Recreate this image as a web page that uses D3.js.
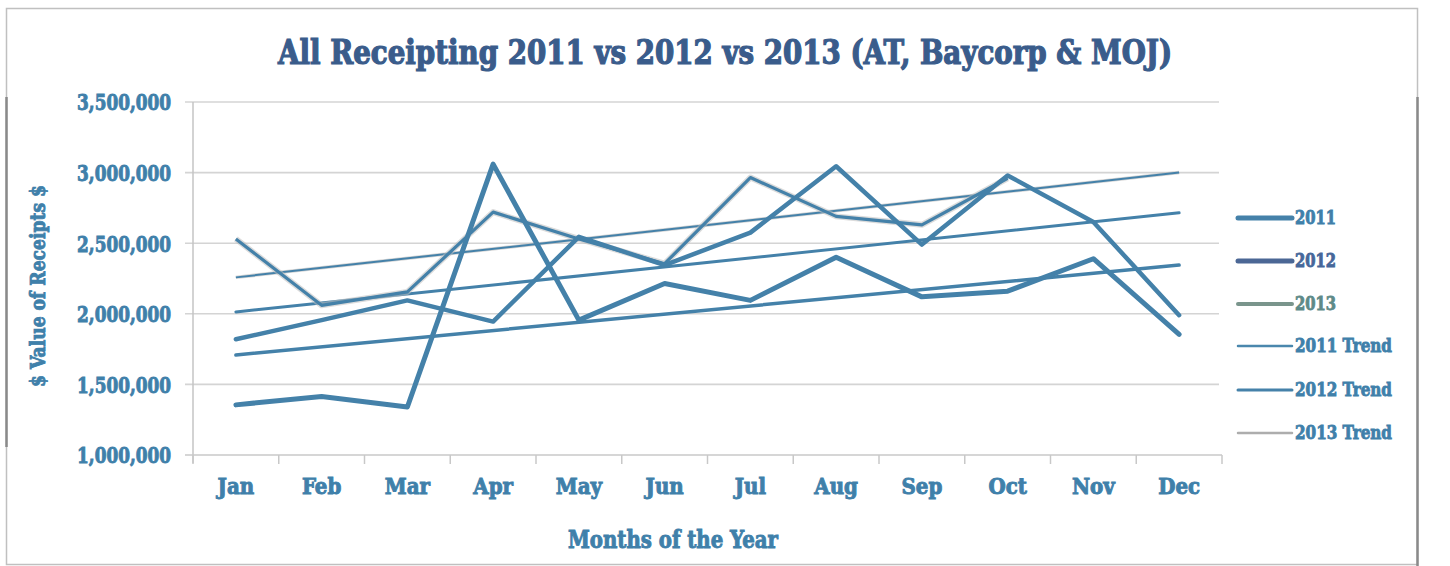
<!DOCTYPE html>
<html>
<head>
<meta charset="utf-8">
<script src="https://cdn.jsdelivr.net/npm/d3@7/dist/d3.min.js"></script>
<style>
  html, body { margin: 0; padding: 0; background: #fff; }
  svg { display: block; }
  text { font-family: "DejaVu Serif", "Liberation Serif", serif; font-weight: bold; font-stretch: condensed; }
</style>
</head>
<body>
<svg id="chart" width="1450" height="566"></svg>
<script>
// ---- data ----
const months = ["Jan","Feb","Mar","Apr","May","Jun","Jul","Aug","Sep","Oct","Nov","Dec"];
const values2011 = [1355000, 1415000, 1340000, 3060000, 1955000, 2215000, 2095000, 2400000, 2120000, 2160000, 2390000, 1855000];
const values2012 = [1820000, 1955000, 2095000, 1945000, 2545000, 2345000, 2575000, 3045000, 2490000, 2980000, 2650000, 1990000];
const values2013 = [2530000, 2060000, 2155000, 2720000, 2530000, 2355000, 2965000, 2690000, 2630000, 2960000];
// trend lines: value at Jan and at Dec
const trend2011 = [1708000, 2345000];
const trend2012 = [2013000, 2715000];
const trend2013 = [2258000, 3000000];
const yTicks = [1000000, 1500000, 2000000, 2500000, 3000000, 3500000];
const legendLabels = ["2011", "2012", "2013", "2011 Trend", "2012 Trend", "2013 Trend"];

const titleText = "All Receipting 2011 vs 2012 vs 2013 (AT, Baycorp & MOJ)";
const xTitleText = "Months of the Year";
const yTitleText = "$ Value of Receipts $";

// ---- layout ----
const svg = d3.select("#chart");
const W = 1450, H = 566;
const pLeft = 193, pRight = 1222, pTop = 102, pBottom = 455;
const blue = "#4481a9", labelBlue = "#3f80aa", titleBlue = "#3a5c8b";

svg.append("rect").attr("width", W).attr("height", H).attr("fill", "#fff");
svg.append("rect").attr("x", 6.5).attr("y", 8.5).attr("width", 1411).attr("height", 556)
  .attr("fill", "none").attr("stroke", "#c0c0c0").attr("stroke-width", 1.5);
// darker scan edges of the frame
svg.append("line").attr("x1", 6.5).attr("x2", 6.5).attr("y1", 97).attr("y2", 447)
  .attr("stroke", "#8a8a8a").attr("stroke-width", 2.5);
svg.append("line").attr("x1", 1417.5).attr("x2", 1417.5).attr("y1", 97).attr("y2", 566)
  .attr("stroke", "#8a8a8a").attr("stroke-width", 2.5);

const x = d3.scaleBand().domain(months).range([pLeft, pRight]);
const y = d3.scaleLinear().domain([1000000, 3500000]).range([pBottom, pTop]);
const xc = m => x(m) + x.bandwidth() / 2;

function fit(sel, w) {
  sel.attr("textLength", w).attr("lengthAdjust", "spacingAndGlyphs");
  return sel;
}
function heavy(sel, c, w) {
  return sel.attr("fill", c).attr("stroke", c).attr("stroke-width", w).attr("paint-order", "stroke");
}

// gridlines
svg.append("g").selectAll("line").data(yTicks.slice(1)).join("line")
  .attr("x1", pLeft - 8).attr("x2", pRight - 3)
  .attr("y1", d => y(d)).attr("y2", d => y(d))
  .attr("stroke", "#d4d4d4").attr("stroke-width", 1.6);

// axes
const yAxis = svg.append("g").attr("transform", `translate(${pLeft},0)`)
  .call(d3.axisLeft(y).tickValues(yTicks).tickSize(0).tickPadding(22).tickFormat(d3.format(",")));
yAxis.select(".domain").attr("stroke", "#c4c4c4").attr("stroke-width", 1.5).attr("d", `M0,${pTop}V${pBottom + 8}`);
yAxis.selectAll(".tick text").attr("font-size", 22).attr("dy", "0.36em")
  .each(function() { heavy(fit(d3.select(this), 94), labelBlue, 0.9); });

const xAxis = svg.append("g").attr("transform", `translate(0,${pBottom})`)
  .call(d3.axisBottom(x).tickSize(0).tickPadding(23));
xAxis.select(".domain").attr("stroke", "#c8c8c8").attr("stroke-width", 1.6).attr("d", `M${pLeft - 8},0H${pRight}`);
xAxis.selectAll(".tick text").attr("font-size", 22)
  .each(function() { heavy(d3.select(this), labelBlue, 0.9); });
// tick marks at the category boundaries
svg.append("g").selectAll("line").data(months).join("line")
  .attr("x1", d => x(d)).attr("x2", d => x(d))
  .attr("y1", pBottom).attr("y2", pBottom + 9)
  .attr("stroke", "#c8c8c8").attr("stroke-width", 1.5);
svg.append("line").attr("x1", pRight).attr("x2", pRight).attr("y1", pBottom).attr("y2", pBottom + 9)
  .attr("stroke", "#c8c8c8").attr("stroke-width", 1.5);

// title
heavy(fit(svg.append("text").attr("x", 725).attr("y", 64).attr("text-anchor", "middle")
  .attr("font-size", 33).text(titleText), 894), titleBlue, 1.2);

// axis titles
heavy(fit(svg.append("text").attr("x", 673).attr("y", 548).attr("text-anchor", "middle")
  .attr("font-size", 24).text(xTitleText), 210), labelBlue, 0.9);
heavy(fit(svg.append("text").attr("transform", "translate(45,286) rotate(-90)").attr("text-anchor", "middle")
  .attr("font-size", 21).text(yTitleText), 202), labelBlue, 0.9);

// trend lines
const trendLine = (vals) => [{m: months[0], v: vals[0]}, {m: months[months.length - 1], v: vals[1]}];
const lineGen = d3.line().x(d => xc(d.m)).y(d => y(d.v));
svg.append("path").datum(trendLine(trend2013)).attr("d", lineGen)
  .attr("fill", "none").attr("stroke", "#b9b9b9").attr("stroke-width", 3.5).attr("opacity", 0.6);
svg.append("path").datum(trendLine(trend2013)).attr("d", lineGen)
  .attr("fill", "none").attr("stroke", blue).attr("stroke-width", 2);
svg.append("path").datum(trendLine(trend2012)).attr("d", lineGen)
  .attr("fill", "none").attr("stroke", blue).attr("stroke-width", 3).attr("stroke-linecap", "round");
svg.append("path").datum(trendLine(trend2011)).attr("d", lineGen)
  .attr("fill", "none").attr("stroke", blue).attr("stroke-width", 3.5).attr("stroke-linecap", "round");

// data lines
const toPts = vals => vals.map((v, i) => ({m: months[i], v}));
svg.append("path").datum(toPts(values2013)).attr("d", lineGen)
  .attr("fill", "none").attr("stroke", "#bdbdbd").attr("stroke-width", 6).attr("opacity", 0.55)
  .attr("stroke-linejoin", "round");
svg.append("path").datum(toPts(values2013)).attr("d", lineGen)
  .attr("fill", "none").attr("stroke", blue).attr("stroke-width", 3.2).attr("stroke-linejoin", "round");
svg.append("path").datum(toPts(values2012)).attr("d", lineGen)
  .attr("fill", "none").attr("stroke", blue).attr("stroke-width", 4.5)
  .attr("stroke-linejoin", "round").attr("stroke-linecap", "round");
svg.append("path").datum(toPts(values2011)).attr("d", lineGen)
  .attr("fill", "none").attr("stroke", blue).attr("stroke-width", 5)
  .attr("stroke-linejoin", "round").attr("stroke-linecap", "round");

// legend
const legendStyles = [
  {color: "#4581a9", width: 5, text: labelBlue},
  {color: "#4b6795", width: 5, text: "#46679a"},
  {color: "#7a958c", width: 4, text: "#5e8a88"},
  {color: "#4a87ad", width: 2.5, text: labelBlue},
  {color: "#4581a9", width: 3, text: labelBlue},
  {color: "#adadad", width: 2.5, text: labelBlue}
];
const legendY = [218, 261, 304, 346, 390, 433];
const legend = svg.append("g");
legendLabels.forEach((lab, i) => {
  const s = legendStyles[i];
  legend.append("line").attr("x1", 1238).attr("x2", 1292).attr("y1", legendY[i]).attr("y2", legendY[i])
    .attr("stroke", s.color).attr("stroke-width", s.width).attr("stroke-linecap", "round");
  heavy(fit(legend.append("text").attr("x", 1295).attr("y", legendY[i]).attr("dy", "0.36em")
    .attr("font-size", 18).text(lab), lab.length > 4 ? 97 : 41), s.text, 0.8);
});
</script>
</body>
</html>
